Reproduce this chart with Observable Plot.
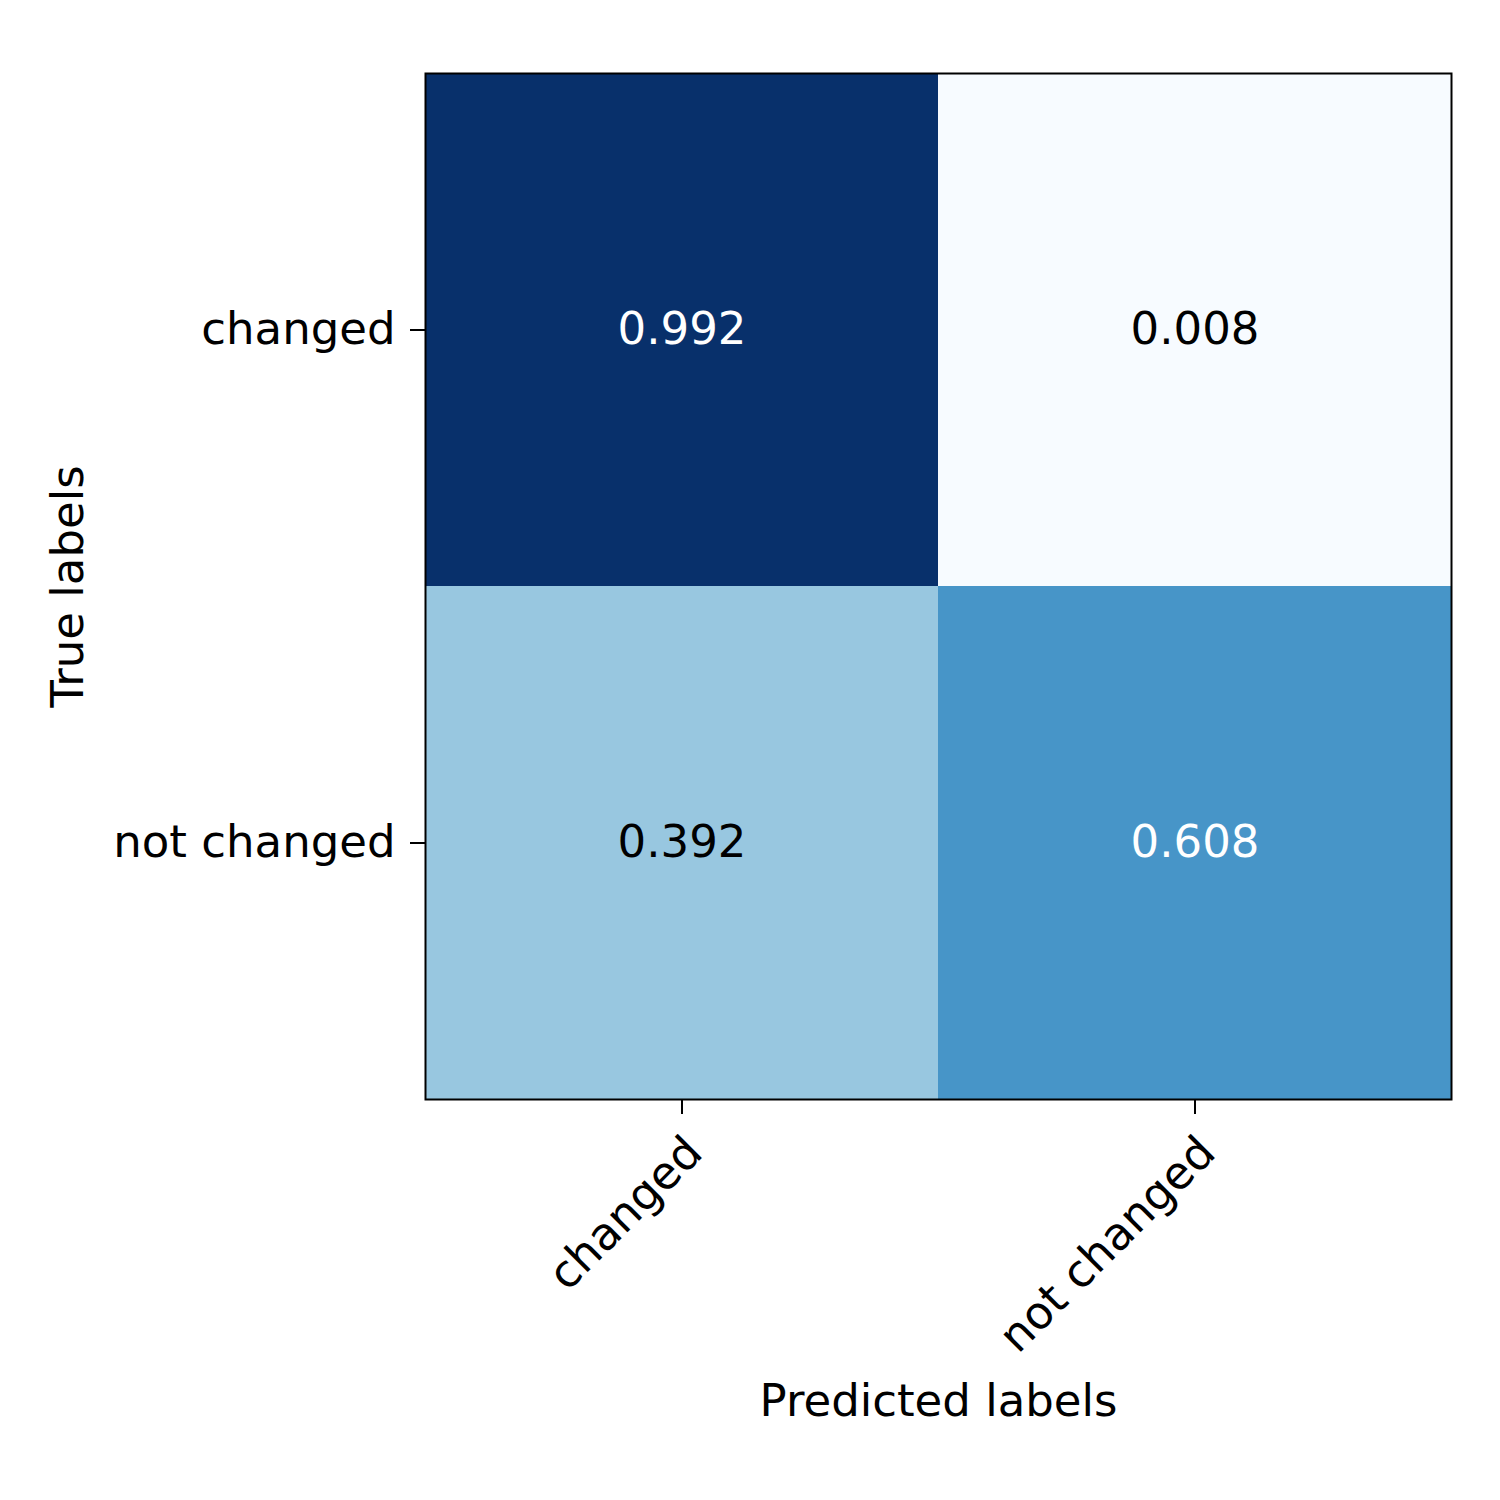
<!DOCTYPE html>
<html>
<head>
<meta charset="utf-8">
<script src="https://cdn.jsdelivr.net/npm/d3@7"></script>
<script src="https://cdn.jsdelivr.net/npm/@observablehq/plot@0.6"></script>
<style>
  html, body { margin: 0; padding: 0; background: white; }
  #chart svg { display: block; }
</style>
</head>
<body>
<div id="chart"></div>
<script>
const classLabels = ["changed", "not changed"];
const rowChanged = [0.992, 0.008];
const rowNotChanged = [0.392, 0.608];
const xLabel = "Predicted labels";
const yLabel = "True labels";
const bluesScheme = ["#f7fbff", "#deebf7", "#c6dbef", "#9ecae1", "#6baed6", "#4292c6", "#2171b5", "#08519c", "#08306b"];

const rows = [rowChanged, rowNotChanged];
const data = [];
rows.forEach((r, i) => r.forEach((v, j) => data.push({ truth: classLabels[i], pred: classLabels[j], value: v })));

const vals = data.map(d => d.value);
const vmin = d3.min(vals), vmax = d3.max(vals);
const colorDomain = bluesScheme.map((_, i) => vmin + (vmax - vmin) * i / (bluesScheme.length - 1));
const threshold = (vmin + vmax) / 2;

const FS = 45;
const font = "DejaVu Sans, sans-serif";

const chart = Plot.plot({
  width: 1500,
  height: 1500,
  marginLeft: 425,
  marginRight: 49,
  marginTop: 73,
  marginBottom: 401,
  style: { fontFamily: font, fontSize: FS + "px", background: "white", color: "black" },
  x: { domain: classLabels, padding: 0 },
  y: { domain: classLabels, padding: 0 },
  color: { type: "linear", domain: colorDomain, range: bluesScheme, interpolate: "rgb" },
  marks: [
    Plot.cell(data, { x: "pred", y: "truth", fill: "value", inset: 0 }),
    Plot.text(data, {
      x: "pred", y: "truth", text: d => d.value.toFixed(3),
      fill: d => d.value > threshold ? "white" : "black",
      fontSize: FS
    }),
    Plot.frame({ stroke: "black", strokeWidth: 2 }),
    Plot.axisY({ tickSize: 15, tickPadding: 15, fontSize: FS, label: null, strokeWidth: 2 }),
    Plot.axisX({ tickSize: 15, text: null, label: null, strokeWidth: 2 }),
    Plot.text(classLabels, {
      x: d => d, frameAnchor: "bottom", dy: 33, rotate: -45,
      textAnchor: "end", lineAnchor: "top", fontSize: FS, fill: "black"
    }),
    Plot.text([xLabel], { frameAnchor: "bottom", dy: 302, textAnchor: "middle", lineAnchor: "middle", fontSize: FS, fill: "black" }),
    Plot.text([yLabel], { frameAnchor: "left", dx: -357, rotate: -90, textAnchor: "middle", lineAnchor: "middle", fontSize: FS, fill: "black" })
  ]
});
document.getElementById("chart").appendChild(chart);
</script>
</body>
</html>
